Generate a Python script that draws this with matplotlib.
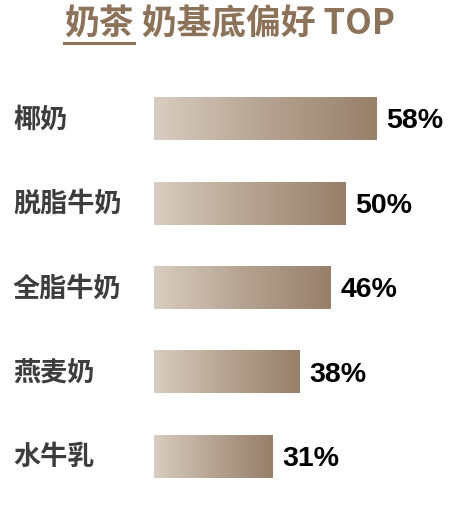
import numpy as np
import matplotlib
matplotlib.use("Agg")
import matplotlib.pyplot as plt
from matplotlib.colors import LinearSegmentedColormap
from matplotlib.transforms import blended_transform_factory

categories = ["椰奶", "脱脂牛奶", "全脂牛奶", "燕麦奶", "水牛乳"]
values = [58, 50, 46, 38, 31]
value_labels = ["58%", "50%", "46%", "38%", "31%"]
title_main = "奶茶"
title_rest = " 奶基底偏好 TOP"

CJK = ["Noto Sans CJK SC", "DejaVu Sans"]
NUM = ["Liberation Sans", "DejaVu Sans"]
TITLE_C = "#8c7259"
LABEL_C = "#3d3d3d"

W, H, DPI = 458, 516, 100
fig = plt.figure(figsize=(W / DPI, H / DPI), dpi=DPI)
fig.patch.set_facecolor("white")
ax = fig.add_axes([0, 0, 1, 1])
ax.set_axis_off()

px_per = 3.83
x0 = 154
ax.set_xlim(-x0 / px_per, (W - x0) / px_per)
row = 84.5
top = 118.5
ax.set_ylim((H - top) / row, -top / row)

cmap = LinearSegmentedColormap.from_list("g", ["#d8cdc1", "#b5a391", "#97806a"])
grad = np.linspace(0, 1, 256).reshape(1, -1)
bh = 43 / row
for i, v in enumerate(values):
    ax.imshow(grad, cmap=cmap, aspect="auto",
              extent=(0, v, i + bh / 2, i - bh / 2), interpolation="bilinear", zorder=2)
    ax.text(v + 10 / px_per, i + 0.03, value_labels[i], ha="left", va="center",
            fontsize=20.5, fontweight="bold", color="black", family=NUM)

tr = blended_transform_factory(fig.transFigure, ax.transData)
for i, c in enumerate(categories):
    ax.text(13 / W, i + 0.01, c, transform=tr, ha="left", va="center",
            fontsize=19.5, fontweight="bold", color=LABEL_C, family=CJK)

# title
ty = 1 - 24 / H
t1 = fig.text(64 / W, ty, title_main, ha="left", va="center", fontsize=25,
              fontweight="bold", color=TITLE_C, family=CJK)
fig.canvas.draw()
r = fig.canvas.get_renderer()
bb = t1.get_window_extent(r)
fig.text(bb.x1 / W, ty, title_rest, ha="left", va="center", fontsize=25,
         fontweight="bold", color=TITLE_C, family=CJK)
uy = 1 - 43 / H
fig.add_artist(plt.Line2D([bb.x0 / W, bb.x1 / W], [uy, uy], transform=fig.transFigure,
                          color=TITLE_C, linewidth=2.2))

fig.savefig("out.png", dpi=DPI, facecolor="white")
